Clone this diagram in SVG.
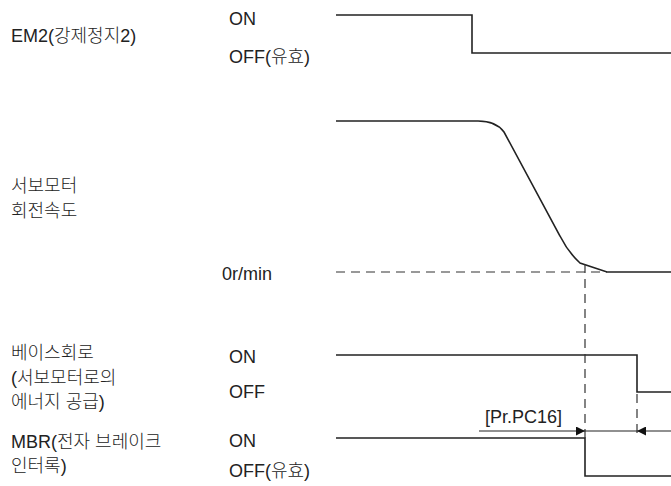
<svg xmlns="http://www.w3.org/2000/svg" width="671" height="486" viewBox="0 0 671 486">
<style>
text{font-family:"Liberation Sans","Noto Sans CJK KR",sans-serif;font-size:18px;font-weight:300;fill:#222}
.sig{fill:none;stroke:#222;stroke-width:1.6}
.dash{fill:none;stroke:#333;stroke-width:1.2;stroke-dasharray:9 6}
.dim{fill:none;stroke:#222;stroke-width:1.1}
</style>
<defs>
<marker id="ah" viewBox="0 0 10 10" refX="10" refY="5" markerWidth="9" markerHeight="9" markerUnits="userSpaceOnUse" orient="auto"><path d="M0,0 L10,5 L0,10 Z" fill="#111"/></marker>
</defs>
<rect width="671" height="486" fill="#fff"/>
<g id="labels">
<text x="11" y="42">EM2(강제정지2)</text>
<text x="229" y="25">ON</text>
<text x="229" y="63">OFF(유효)</text>
<text x="11" y="192">서보모터</text>
<text x="11" y="217">회전속도</text>
<text x="222" y="280">0r/min</text>
<text x="11" y="359">베이스회로</text>
<text x="11" y="384">(서보모터로의</text>
<text x="11" y="408">에너지 공급)</text>
<text x="229" y="363">ON</text>
<text x="229" y="398">OFF</text>
<text x="11" y="448">MBR(전자 브레이크</text>
<text x="11" y="472">인터록)</text>
<text x="229" y="447">ON</text>
<text x="229" y="477">OFF(유효)</text>
<text x="485" y="423">[Pr.PC16]</text>
</g>
<g id="em2"><path class="sig" d="M336,15 H472 V53 H671"/></g>
<g id="speed">
<path class="dash" d="M336,272 H607"/>
<path class="sig" d="M336,121 H478 Q496,121 504,132 L560,236 Q568,252 580,263 L607,272 H671"/>
</g>
<g id="base"><path class="sig" d="M336,355 H637 V392 H671"/></g>
<g id="mbr"><path class="sig" d="M336,438 H585 V476 H671"/></g>
<g id="connectors">
<path class="dash" d="M585,264 V438"/>
<path class="dash" d="M637,394 V438"/>
<path class="dim" d="M479,431 H585" marker-end="url(#ah)"/>
<path class="dim" d="M585,431 H637"/>
<path class="dim" d="M671,431 H637" marker-end="url(#ah)"/>
</g>
</svg>
